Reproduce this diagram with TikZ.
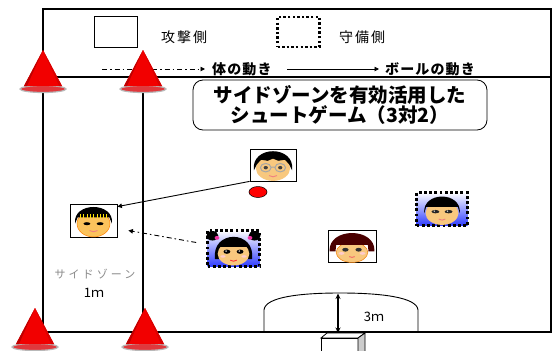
\documentclass[tikz,border=0pt]{standalone}
\usepackage{fontspec}
\newfontfamily\jp{Noto Sans CJK JP}
\newfontfamily\jpkey{Noto Sans CJK JP}[LetterSpace=14]
\newfontfamily\jpmove{Noto Sans CJK JP}[LetterSpace=8]
\newfontfamily\jpsp{Noto Sans CJK JP}[LetterSpace=28]
\usetikzlibrary{calc,arrows.meta,shapes.geometric}

\definecolor{skin}{HTML}{F8C87E}
\definecolor{skinB}{HTML}{FBC35C}
\definecolor{conered}{HTML}{F20000}
\definecolor{coneplate}{HTML}{E0383C}
\definecolor{lips}{HTML}{F08080}
\definecolor{brownhair}{HTML}{4A0000}
\definecolor{bgblue}{HTML}{2F3CFF}
\definecolor{zonegray}{HTML}{8A8A8A}

\tikzset{
  fieldline/.style={line width=1.5pt, line cap=rect},
  plainface/.style={rectangle, draw=black, line width=0.8pt, fill=white, inner sep=0pt},
  dotface/.style={rectangle, draw=black, line width=2.6pt, dash pattern=on 2.8pt off 2.4pt,
    inner sep=0pt, top color=white, bottom color=bgblue},
  facescale/.style={xscale=1.32, yscale=1.06},
  legtext/.style={font=\jpkey\fontsize{14pt}{16pt}\selectfont, inner sep=0pt},
  movetext/.style={font=\jpmove\bfseries\fontsize{14pt}{16pt}\selectfont, inner sep=0pt, anchor=west},
  bodymove/.style={line width=0.9pt, dash pattern=on 5pt off 3pt on 1.5pt off 3pt,
    -{Triangle[length=4.5pt,width=4.5pt]}},
  ballmove/.style={line width=0.9pt, -{Triangle[length=4.5pt,width=4.5pt]}},
  cone/.pic={
    \fill[coneplate, draw=gray!55, line width=1.2pt] (0,0) ellipse (23 and 3.5);
    \fill[conered] (0,-39) -- (-19,-3) -- (19,-3) -- cycle;
    \fill[red!75!black] (0,-39) -- (-19,-3) -- (-16,-3) -- cycle;
    \fill[red!85!black] (0,-39) -- (19,-3) -- (16,-3) -- cycle;
  },
  glassesboy/.pic={
    \fill[skin] (0,3) ellipse (13 and 12);
    \fill[black] (-14.5,5) .. controls (-17,-19) and (17,-19) .. (14.5,5)
      -- (12,-1) -- (9,-5) -- (4,-4) -- (0,-6) -- (-4,-4) -- (-9,-5) -- (-12,-1) -- cycle;
    \fill[black!75] (-5.5,2.5) circle (1.6) (5.5,2.5) circle (1.6);
    \draw[gray!70, line width=1pt] (-5.5,2.5) circle (4) (5.5,2.5) circle (4) (-1.5,2) -- (1.5,2);
    \draw[lips, line width=0.9pt] (-3,10) .. controls (-1,11.5) and (1,11.5) .. (3,10);
  },
  stripeboy/.pic={
    \fill[skinB, draw=orange, line width=0.5pt] (0,3) ellipse (12.5 and 12.5);
    \fill[black] (-14,3) .. controls (-16,-18) and (16,-18) .. (14,3)
      -- (12,-3) -- (-12,-3) -- cycle;
    \foreach \sx in {-10,-7.5,...,11} \draw[yellow!85!orange, line width=0.6pt] (\sx,-6) -- (\sx,-2);
    \fill[black] (-5,3) ellipse (2.6 and 1.4) (5,3) ellipse (2.6 and 1.4);
    \draw[lips, line width=0.9pt] (-3,9.5) .. controls (-1,11) and (1,11) .. (3,9.5);
  },
  pigtailgirl/.pic={
    \fill[black] (-16,-12) circle (4.5) (16,-12) circle (4.5);
    \fill[magenta!80] (-12.5,-10) circle (1.8) (12.5,-10) circle (1.8);
    \fill[black] (-14,10) .. controls (-17,-18) and (17,-18) .. (14,10) -- cycle;
    \fill[skin] (0,5) ellipse (12 and 11);
    \fill[black] (-12,-1) .. controls (-12,-8) and (12,-8) .. (12,-1) -- cycle;
    \fill[black] (-5,3) ellipse (2.6 and 2) (5,3) ellipse (2.6 and 2);
    \fill[white] (-5.6,2.4) circle (0.7) (4.4,2.4) circle (0.7);
    \fill[pink!80] (-8,7.5) ellipse (2 and 1.2) (8,7.5) ellipse (2 and 1.2);
    \draw[red!80, line width=0.9pt] (-2.5,11) .. controls (-1,12.3) and (1,12.3) .. (2.5,11);
  },
  fringeboy/.pic={
    \fill[skin] (0,4) ellipse (12.5 and 11);
    \fill[black] (-13.5,4) .. controls (-15,-17) and (15,-17) .. (13.5,4)
      -- (12,-2) -- (-12,-2) -- cycle;
    \fill[black!85] (-5,2.5) ellipse (3 and 1.6) (5,2.5) ellipse (3 and 1.6);
    \fill[white] (-5.8,2) circle (0.6) (4.2,2) circle (0.6);
    \draw[lips, line width=0.9pt] (-2.5,9.5) .. controls (-1,10.8) and (1,10.8) .. (2.5,9.5);
  },
  bobgirl/.pic={
    \fill[skin, draw=orange!80!brown, line width=0.5pt] (0,6) ellipse (12 and 9.5);
    \fill[brownhair] (-17,5) .. controls (-18,-18) and (18,-18) .. (17,5)
      -- (12.5,5) -- (12,-1) -- (-12,-1) -- (-12.5,5) -- cycle;
    \fill[black!80] (-5,3.5) ellipse (2.4 and 1.8) (5,3.5) ellipse (2.4 and 1.8);
    \fill[pink!80] (-8,7) ellipse (2.2 and 1.3) (8,7) ellipse (2.2 and 1.3);
    \draw[lips!80!red, line width=0.9pt] (-2,10) .. controls (-0.7,11) and (0.7,11) .. (2,10);
  },
}

\begin{document}
\begin{tikzpicture}[x=1pt, y=-1pt]
\useasboundingbox (0,0) rectangle (552,351);
\fill[white] (0,0) rectangle (552,351);

% court outline, legend strip and side zone
\draw[fieldline] (43,9) -- (551,9) -- (551,332) -- (43,332) -- cycle;
\draw[fieldline] (43,77) -- (551,77);
\draw[fieldline] (143,77) -- (143,332);

% legend
\node[rectangle, draw=black, line width=0.8pt, minimum width=43pt, minimum height=31pt, inner sep=0pt] (keyatk) at (115.5,31.5) {};
\node[legtext, anchor=west] (atklabel) at (161,37) {攻撃側};
\node[rectangle, draw=black, line width=2.2pt, dash pattern=on 2.4pt off 2.2pt, minimum width=42pt, minimum height=30pt, inner sep=0pt] (keydef) at (298.5,32) {};
\node[legtext, anchor=west] (deflabel) at (339,37) {守備側};
\node[movetext] (bodylabel) at (212,69) {体の動き};
\node[movetext] (balllabel) at (385,69) {ボールの動き};
\coordinate (bodystart) at (102,69);
\coordinate (ballstart) at (287,69);
\draw[bodymove] (bodystart) -- ($(bodylabel.west)+(-7,0)$);
\draw[ballmove] (ballstart) -- ($(balllabel.west)+(-6,0)$);

% title
\node[rectangle, rounded corners=10pt, draw=black, line width=0.8pt, minimum width=294pt, minimum height=50pt,
  align=center, inner sep=0pt, font=\jp\bfseries\fontsize{19.5pt}{20pt}\selectfont] (title) at (340,105)
  {サイドゾーンを有効活用した\\シュートゲーム（3対2）};

% players
\node[plainface, minimum width=46pt, minimum height=32pt] (shooter) at (273,165) {};
\pic[facescale] at (shooter) {glassesboy};
\node[plainface, minimum width=47pt, minimum height=33pt] (wing) at (93.5,220.5) {};
\pic[facescale] at (wing) {stripeboy};
\node[dotface, minimum width=52pt, minimum height=36pt] (marker) at (233.5,248.5) {};
\pic[facescale] at (marker) {pigtailgirl};
\node[dotface, minimum width=51pt, minimum height=33pt] (keeper) at (442,209) {};
\pic[facescale] at (keeper) {fringeboy};
\node[plainface, minimum width=48pt, minimum height=32pt] (runner) at (352,246) {};
\pic[facescale] at (runner) {bobgirl};

% ball
\node[ellipse, draw=black, line width=0.5pt, fill=red, minimum width=18pt, minimum height=11pt, inner sep=0pt] (ball) at (258,192) {};

% pass and run
\draw[ballmove] (shooter.south west) -- ($(wing.north east)+(0,3)$);
\draw[bodymove] ($(marker.west)+(-10,-6)$) -- ($(wing.east)+(11,10)$);

% side zone labels
\node[font=\jpsp\fontsize{11pt}{12pt}\selectfont, text=zonegray, inner sep=0pt] (zonelabel) at (95,274) {サイドゾーン};
\node[font=\jp\fontsize{13pt}{15pt}\selectfont, inner sep=0pt] (zonewidth) at (94,293) {1ｍ};

% shooting area and goal
\draw[line width=0.9pt] (264,332) -- (264,310) .. controls (265,297) and (300,293) .. (340,293)
  .. controls (380,293) and (417,297) .. (418,310) -- (418,332);
\coordinate (arctop) at (338,293.5);
\coordinate (goaltop) at (338,333);
\draw[line width=1.3pt, {Stealth[length=5.5pt,width=5pt]}-{Stealth[length=5.5pt,width=5pt]}] (arctop) -- (goaltop);
\node[font=\jp\fontsize{13pt}{15pt}\selectfont, inner sep=0pt] (arcdepth) at (374,317) {3ｍ};
\filldraw[fill=white, draw=black, line width=0.8pt] (321,338) -- (327,333) -- (365,333) -- (358,338) -- cycle;
\filldraw[fill=white, draw=black, line width=0.8pt] (321,338) rectangle (358,356);
\filldraw[fill=gray!40, draw=black, line width=0.8pt] (358,338) -- (365,333) -- (365,352) -- (358,357) -- cycle;

% cones
\pic at (43,89) {cone};
\pic at (143,89) {cone};
\pic at (35,347) {cone};
\pic at (145,347) {cone};
\end{tikzpicture}
\end{document}
